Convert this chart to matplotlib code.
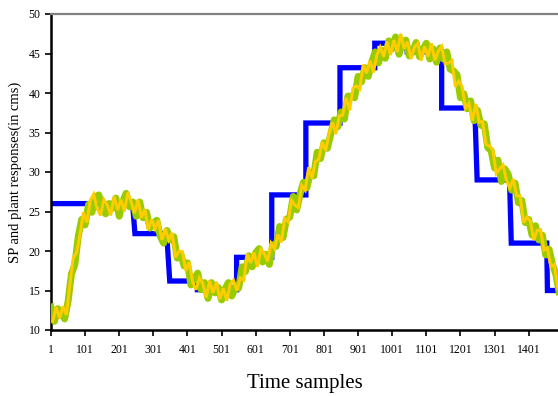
import numpy as np
import matplotlib
matplotlib.use('Agg')
import matplotlib.pyplot as plt

plt.rcParams['font.family'] = ['Liberation Serif', 'DejaVu Serif']

# set point (step profile), vertices of the blue line
sp_x = [1, 240, 247, 340, 349, 430, 430, 545, 545, 648, 648, 748, 748, 848, 848,
        950, 950, 1043, 1045, 1146, 1146, 1243, 1250, 1345, 1350, 1454, 1456, 1500]
sp_y = [26.0, 26.0, 22.2, 22.2, 16.2, 16.2, 15.1, 15.1, 19.2, 19.2, 27.1, 27.1, 36.2, 36.2, 43.2,
        43.2, 46.3, 46.3, 45.2, 45.2, 38.1, 38.1, 29.0, 29.0, 21.0, 21.0, 15.0, 15.0]

# plant responses read every 10 samples
resp_x = list(range(1, 1500, 10))
black_y = [12.0, 11.6, 11.5, 11.8, 12.4, 13.8, 16.5, 19.5, 21.8, 23.0,
           23.9, 25.5, 26.0, 26.0, 25.8, 25.7, 25.6, 25.5, 25.5, 25.6,
           25.6, 26.0, 26.4, 26.3, 25.8, 25.4, 25.0, 24.6, 24.2, 23.7,
           23.2, 22.8, 22.5, 22.3, 22.0, 21.5, 20.8, 20.0, 19.3, 18.6,
           17.7, 16.8, 16.3, 16.0, 15.8, 15.5, 15.3, 15.1, 14.9, 14.8,
           14.8, 14.9, 14.9, 15.1, 15.3, 15.9, 16.8, 17.8, 18.7, 19.1,
           19.3, 19.3, 19.3, 19.4, 19.5, 20.0, 20.9, 21.8, 22.6, 23.6,
           24.8, 25.8, 26.4, 26.9, 27.8, 28.8, 29.7, 30.5, 31.3, 32.1,
           33.0, 33.9, 34.7, 35.5, 36.3, 37.2, 38.0, 38.7, 39.4, 40.2,
           41.1, 41.9, 42.6, 43.2, 43.6, 44.0, 44.5, 44.9, 45.4, 45.8,
           46.0, 46.1, 46.1, 46.0, 45.8, 45.6, 45.4, 45.3, 45.2, 45.2,
           45.1, 45.1, 45.1, 45.0, 44.9, 44.6, 44.2, 43.7, 42.6, 41.4,
           40.3, 39.3, 38.4, 37.9, 37.5, 37.1, 36.2, 35.1, 33.9, 32.3,
           31.1, 30.3, 29.7, 29.6, 29.4, 28.8, 27.7, 26.6, 25.4, 24.3,
           23.2, 22.6, 22.1, 21.8, 21.3, 20.5, 19.6, 18.6, 16.5, 14.8]
green_y = [12.9, 11.1, 12.7, 12.1, 11.4, 13.6, 17.1, 18.3, 21.9, 24.0,
           23.3, 25.9, 24.9, 26.8, 27.1, 25.4, 24.7, 26.0, 25.4, 26.7,
           24.4, 26.2, 27.3, 25.6, 26.2, 24.4, 26.2, 24.2, 24.9, 22.9,
           23.5, 23.9, 21.9, 21.0, 22.6, 21.4, 21.8, 19.1, 19.7, 18.1,
           18.5, 15.7, 16.5, 17.2, 15.1, 16.0, 14.0, 16.0, 14.7, 15.4,
           13.8, 15.2, 16.0, 14.3, 15.4, 15.3, 18.0, 17.4, 19.4, 18.0,
           19.8, 20.3, 18.6, 19.6, 18.3, 20.8, 20.6, 23.1, 21.7, 24.0,
           24.3, 26.9, 25.2, 27.2, 28.7, 28.0, 29.9, 29.5, 32.5, 31.7,
           33.7, 33.0, 34.8, 36.6, 35.7, 37.6, 36.7, 39.6, 39.6, 39.4,
           42.1, 41.4, 43.2, 42.1, 43.9, 45.2, 43.8, 45.4, 44.4, 46.6,
           45.6, 47.1, 44.9, 46.4, 46.7, 44.7, 45.2, 46.4, 44.6, 45.5,
           46.3, 44.3, 45.6, 43.9, 45.7, 44.3, 45.2, 43.0, 42.8, 42.3,
           39.4, 39.9, 38.0, 39.0, 36.5, 37.8, 35.9, 36.1, 33.1, 32.7,
           30.5, 31.5, 28.8, 30.4, 29.7, 27.7, 28.6, 26.1, 26.4, 23.6,
           24.0, 22.0, 23.2, 21.4, 22.0, 19.5, 20.2, 18.3, 17.0, 14.6]
yellow_x = list(range(6, 1490, 10))
yellow_y = [11.1, 12.9, 11.5, 13.0, 11.9, 15.6, 19.1, 19.8, 22.1, 24.9,
            23.6, 26.4, 27.2, 25.4, 24.5, 26.5, 25.8, 24.5, 26.9, 25.2,
            26.5, 25.0, 27.4, 26.2, 24.8, 26.5, 24.2, 25.3, 22.7, 24.0,
            22.8, 23.9, 21.4, 22.8, 21.4, 22.3, 19.2, 20.0, 19.9, 17.5,
            18.6, 16.1, 15.1, 16.6, 15.9, 14.1, 16.2, 14.7, 16.1, 13.9,
            15.3, 13.7, 15.8, 16.3, 15.0, 16.6, 16.3, 19.6, 18.5, 19.8,
            18.0, 20.2, 19.7, 18.7, 21.0, 20.3, 22.1, 21.1, 24.1, 23.7,
            26.4, 25.8, 25.5, 28.3, 27.7, 30.6, 29.2, 31.3, 31.6, 33.8,
            32.7, 34.8, 36.3, 34.8, 37.1, 37.2, 39.4, 37.8, 40.6, 40.9,
            40.5, 43.6, 42.5, 44.1, 42.6, 44.8, 45.8, 44.6, 46.5, 44.8,
            46.7, 45.2, 47.5, 45.6, 46.5, 44.3, 45.8, 46.3, 44.1, 45.9,
            44.6, 46.3, 44.1, 45.3, 45.9, 43.7, 43.8, 44.1, 40.8, 41.5,
            40.8, 38.1, 38.7, 36.5, 38.6, 36.3, 36.4, 33.5, 33.3, 32.8,
            29.8, 30.4, 30.9, 28.9, 28.0, 29.1, 27.0, 27.0, 23.6, 24.3,
            23.8, 21.4, 22.6, 22.7, 20.1, 20.4, 18.0, 18.3, 15.3]

x_ticks = list(range(1, 1500, 100))

fig = plt.figure(figsize=(5.58, 3.96), dpi=100)
ax = fig.add_axes([51 / 558, 66 / 396, 507 / 558, 316 / 396])

ax.plot(sp_x, sp_y, color='#0000FF', lw=3.8, solid_joinstyle='miter', zorder=2)
ax.plot(resp_x, black_y, color='black', lw=1.5, zorder=3)
ax.plot(resp_x, green_y, color='#99CC00', lw=5.0, solid_joinstyle='round', zorder=4)
ax.plot(yellow_x, yellow_y, color='#FFCC00', lw=2.1, solid_joinstyle='miter', zorder=5)

ax.set_xlim(1, 1487)
ax.set_ylim(10, 50)
ax.set_xticks(x_ticks)
ax.set_xticklabels([str(v) for v in x_ticks])
ax.set_yticks(range(10, 51, 5))
ax.tick_params(axis='both', direction='out', length=4, width=1.2, labelsize=8.5, colors='black')
ax.tick_params(axis='x', pad=6)

for s in ['left', 'bottom']:
    ax.spines[s].set_linewidth(1.8)
    ax.spines[s].set_color('black')
ax.spines['top'].set_color('#808080')
ax.spines['top'].set_linewidth(1.6)
ax.spines['right'].set_visible(False)

ax.set_ylabel('SP and plant responses(in cms)', fontsize=10.5, labelpad=5)
ax.set_xlabel('Time samples', fontsize=15, labelpad=13)

fig.savefig('out.png', dpi=100)
